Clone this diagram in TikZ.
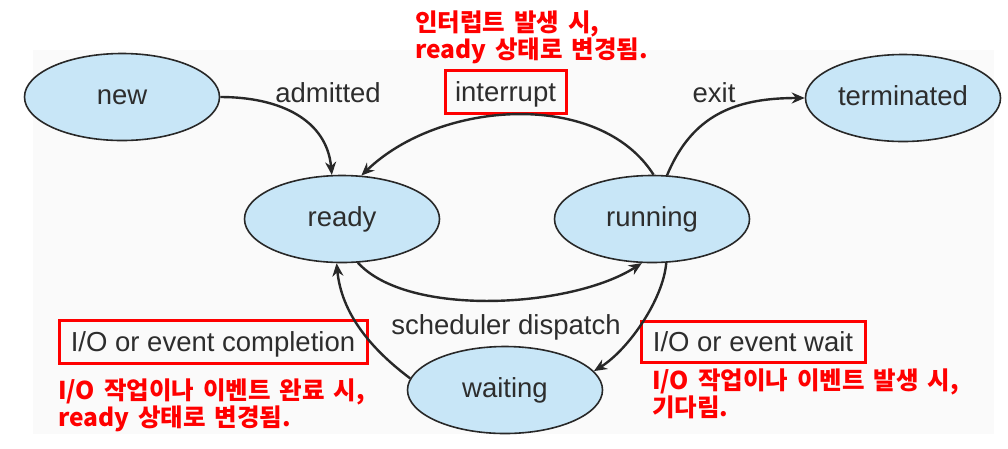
\documentclass[tikz,border=0pt]{standalone}
\usepackage{fontspec}
\setmainfont{Liberation Sans}
\newfontfamily\kor[WordSpace=1.6]{Noto Sans CJK KR}
\usetikzlibrary{arrows.meta,shapes.geometric}
\definecolor{celeste}{RGB}{200,230,247}
\definecolor{borde}{RGB}{40,40,40}
\definecolor{texto}{RGB}{45,45,45}
\definecolor{rojo}{RGB}{255,0,0}
\definecolor{fondo}{RGB}{250,250,250}
\tikzset{
  estado/.style={draw=borde, line width=1.6pt, ellipse, fill=celeste, minimum width=195pt, minimum height=87pt, inner sep=0pt, font=\fontsize{27.5}{30}\selectfont, text=texto, text height=20pt, text depth=5pt},
  etq/.style={font=\fontsize{27.5}{30}\selectfont, text=texto, inner sep=0pt},
  marca/.style={draw=rojo, line width=3pt, text height=22pt, text depth=3pt},
  nota/.style={font=\kor\bfseries\fontsize{24.5}{27}\selectfont, text=rojo, align=left, inner sep=0pt},
  fl/.style={-{Stealth[length=13pt,width=11pt]}, line width=2.4pt, borde},
}

\begin{document}
\begin{tikzpicture}[x=1pt, y=-1pt]
  \useasboundingbox (0,0) rectangle (1008,448);
  \fill[fondo] (33,50) rectangle (994,434);

  \node[estado] (new) at (122,97) {new};
  \node[estado] (ready) at (342,219) {ready};
  \node[estado] (running) at (652,219) {running};
  \node[estado] (terminated) at (903,98) {terminated};
  \node[estado] (waiting) at (505,390) {waiting};

  \node[etq, anchor=base] (admitted) at (328,102) {admitted};
  \node[etq, anchor=base] (exit) at (714,102) {exit};
  \node[etq, anchor=base] (dispatch) at (506,334) {scheduler dispatch};
  \node[etq, marca, minimum width=121pt, minimum height=43pt] (interrupt) at (505.5,91.5) {interrupt};
  \node[etq, marca, minimum width=308pt, minimum height=43pt] (iocomp) at (213,341.5) {I/O or event completion};
  \node[etq, marca, minimum width=224pt, minimum height=41pt] (iowait) at (753,341.5) {I/O or event wait};

  % base = baseline of the last line
  \node[nota, anchor=base west] (n_interrupt) at (415,58) {인터럽트 발생 시,\\ready 상태로 변경됨.};
  \node[nota, anchor=base west] (n_iocomp) at (58,426) {I/O 작업이나 이벤트 완료 시,\\ready 상태로 변경됨.};
  \node[nota, anchor=base west] (n_iowait) at (652,416) {I/O 작업이나 이벤트 발생 시,\\기다림.};

  \draw[fl] (new.east) .. controls +(60,0) and +(-5,-55) .. (ready.103);
  \draw[fl] (running.88) .. controls +(-54,-85) and +(79,-76) .. (ready.66);
  \draw[fl] (running.71) .. controls +(25,-60) and +(-70,0) .. (terminated.west);
  \draw[fl] (ready.-70) .. controls +(50,55) and +(-70,45) .. (running.-103);
  \draw[fl] (running.-72) .. controls +(-3,37) and +(34,-21) .. (waiting.12);
  \draw[fl] (waiting.173) .. controls +(-40,-30) and +(5,50) .. (ready.-97);
\end{tikzpicture}
\end{document}
